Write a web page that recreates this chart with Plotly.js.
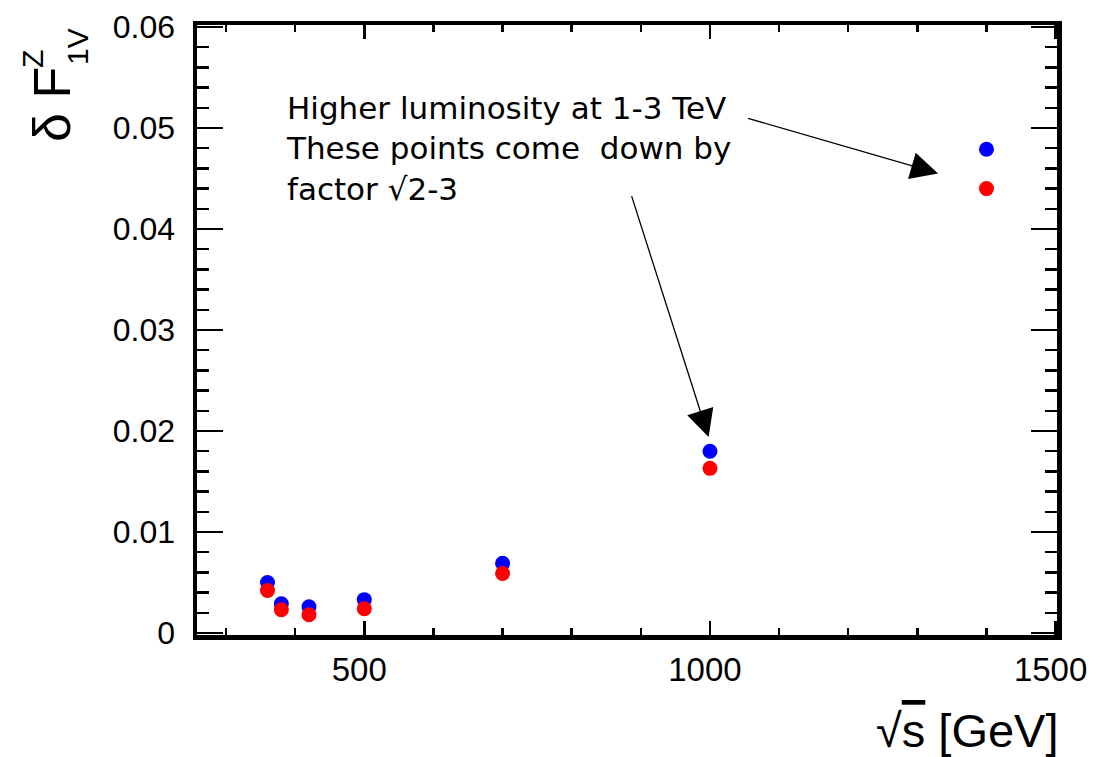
<!DOCTYPE html>
<html>
<head>
<meta charset="utf-8">
<script src="https://cdn.plot.ly/plotly-3.0.1.min.js"></script>
<style>html,body{margin:0;padding:0;background:#fff;}#chart{width:1096px;height:757px;}</style>
</head>
<body>
<div id="chart"></div>
<script>
// ---- data ----
const sqrtS = [360, 380, 420, 500, 700, 1000, 1400];
const blueVals = [0.0050, 0.0029, 0.0026, 0.0033, 0.0069, 0.0180, 0.0479];
const redVals  = [0.0042, 0.0023, 0.0018, 0.0024, 0.0059, 0.0163, 0.0440];
const xTitle = '√<span style="text-decoration:overline">s</span> [GeV]';
const yTitleMain = 'δ F';
const yTitleSup = 'Z';
const yTitleSub = '1V';
const noteText = 'Higher luminosity at 1-3 TeV<br>These points come\u00a0 down by<br>factor √2-3';

// ---- layout helpers (pixel -> paper) ----
const W = 1096, H = 757;
const M = {l: 197, r: 39, t: 25, b: 122};
const PW = W - M.l - M.r, PH = H - M.t - M.b;
const px = v => (v - M.l) / PW;
const py = v => (H - M.b - v) / PH;

const tickFont = {family: 'Liberation Sans, Arial, sans-serif', size: 32, color: '#000'};

const traces = [
  {x: sqrtS, y: blueVals, type: 'scatter', mode: 'markers',
   marker: {color: '#0000ff', size: 15, line: {width: 0}}, showlegend: false, hoverinfo: 'skip'},
  {x: sqrtS, y: redVals, type: 'scatter', mode: 'markers',
   marker: {color: '#ff0000', size: 15, line: {width: 0}}, showlegend: false, hoverinfo: 'skip'}
];

const layout = {
  width: W, height: H,
  margin: M,
  paper_bgcolor: '#fff', plot_bgcolor: '#fff',
  showlegend: false,
  xaxis: {
    range: [258, 1502], showgrid: false, zeroline: false,
    showline: true, linewidth: 4.5, linecolor: '#000', mirror: 'allticks',
    ticks: 'inside', ticklen: 14, tickwidth: 2.5, tickcolor: '#000',
    tick0: 0, dtick: 500,
    minor: {ticks: 'inside', dtick: 100, ticklen: 7, tickwidth: 2.5, tickcolor: '#000', showgrid: false},
    tickfont: Object.assign({}, tickFont, {size: 33}),
    ticklabelstandoff: 2, ticklabelshift: -5
  },
  yaxis: {
    range: [-0.0002, 0.0602], showgrid: false, zeroline: false,
    showline: true, linewidth: 4.5, linecolor: '#000', mirror: 'allticks',
    ticks: 'inside', ticklen: 26, tickwidth: 2.5, tickcolor: '#000',
    tick0: 0, dtick: 0.01,
    minor: {ticks: 'inside', dtick: 0.002, ticklen: 12, tickwidth: 2.5, tickcolor: '#000', showgrid: false},
    tickfont: tickFont,
    ticklabelstandoff: 11
  },
  annotations: [
    {xref: 'paper', yref: 'paper', x: 1, y: py(730), xanchor: 'right', yanchor: 'middle', xshift: 4,
     text: xTitle, showarrow: false,
     font: {family: 'Liberation Sans, Arial, sans-serif', size: 47, color: '#000'}},
    {xref: 'paper', yref: 'paper', x: px(52), y: py(105), xanchor: 'center', yanchor: 'middle',
     text: yTitleMain, textangle: -90, showarrow: false,
     font: {family: 'Liberation Sans, Arial, sans-serif', size: 52, color: '#000'}},
    {xref: 'paper', yref: 'paper', x: px(33), y: py(59), xanchor: 'center', yanchor: 'middle',
     text: yTitleSup, textangle: -90, showarrow: false,
     font: {family: 'Liberation Sans, Arial, sans-serif', size: 30, color: '#000'}},
    {xref: 'paper', yref: 'paper', x: px(77), y: py(47), xanchor: 'center', yanchor: 'middle',
     text: yTitleSub, textangle: -90, showarrow: false,
     font: {family: 'Liberation Sans, Arial, sans-serif', size: 30, color: '#000'}},
    {xref: 'paper', yref: 'paper', x: px(284), y: py(88), xanchor: 'left', yanchor: 'top', align: 'left',
     text: noteText, showarrow: false,
     font: {family: 'DejaVu Sans, sans-serif', size: 31, color: '#000'}},
    {xref: 'x', yref: 'y', axref: 'x', ayref: 'y',
     x: 1330, y: 0.0455, ax: 1053, ay: 0.0510, text: '',
     showarrow: true, arrowhead: 2, arrowsize: 4.2, arrowwidth: 1.3, arrowcolor: '#000', standoff: 0},
    {xref: 'x', yref: 'y', axref: 'x', ayref: 'y',
     x: 998, y: 0.0194, ax: 886, ay: 0.0434, text: '',
     showarrow: true, arrowhead: 2, arrowsize: 4.2, arrowwidth: 1.3, arrowcolor: '#000', standoff: 0}
  ]
};

Plotly.newPlot('chart', traces, layout, {displayModeBar: false, staticPlot: true});
</script>
</body>
</html>
